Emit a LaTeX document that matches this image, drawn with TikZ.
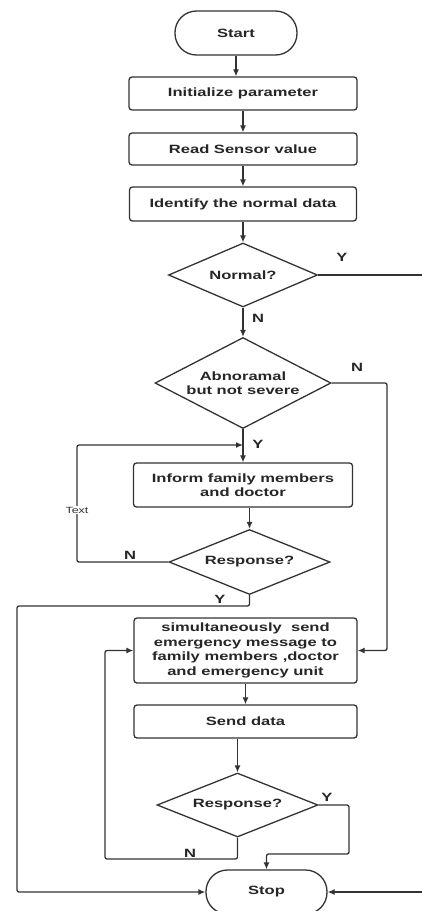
\documentclass[tikz,border=0pt]{standalone}
\usepackage{fontspec}
\setmainfont{Liberation Sans}[FakeStretch=1.38]
\usetikzlibrary{arrows.meta,shapes.geometric}
\definecolor{lncol}{HTML}{333333}
\begin{document}
\begin{tikzpicture}[x=1pt,y=-1pt,
  base/.style={draw=lncol, line width=1.3pt, font=\fontsize{12}{14.5}\selectfont\bfseries, text=black!85},
  proc/.style={base, rectangle, rounded corners=3pt, align=center, inner sep=0pt},
  term/.style={base, rectangle, rounded corners=21.5pt, inner sep=0pt},
  dec/.style={base, diamond, aspect=2, inner sep=0pt, align=center},
  conn/.style={draw=lncol, line width=1.3pt, rounded corners=2pt},
  arr/.style={conn, -{Latex[length=7pt,width=6pt]}},
  lab/.style={font=\fontsize{12}{14.5}\selectfont\bfseries, text=black!85, inner sep=1pt}]
\useasboundingbox (0,0) rectangle (422,911);
\fill[white] (0,0) rectangle (422,911);
\clip (0,0) rectangle (422,911);

% nodes
\node[term, minimum width=122pt, minimum height=44pt] (start) at (236,33) {Start};
\node[proc, minimum width=228pt, minimum height=33pt] (init) at (243,93.5) {Initialize parameter};
\node[proc, minimum width=228pt, minimum height=32pt] (read) at (243,149) {Read Sensor value};
\node[proc, minimum width=227pt, minimum height=34pt] (ident) at (243,204) {Identify the normal data};
\node[dec, minimum width=149pt, minimum height=64pt] (normal) at (243,275) {Normal?};
\node[dec, minimum width=176pt, minimum height=91pt] (abn) at (243,383) {Abnoramal\\[-1pt]but not severe};
\node[proc, minimum width=219pt, minimum height=44pt] (inform) at (243,485) {Inform family members\\and doctor};
\node[dec, minimum width=161pt, minimum height=65pt] (resp1) at (249.5,562) {Response?};
\node[proc, minimum width=223pt, minimum height=65pt] (sim) at (245.5,650.5) {simultaneously\ \ send\\emergency message to\\family members ,doctor\\and emergency unit};
\node[proc, minimum width=223pt, minimum height=33pt] (send) at (245.5,721.5) {Send data};
\node[dec, minimum width=161pt, minimum height=64pt] (resp2) at (237.5,805) {Response?};
\node[term, minimum width=121pt, minimum height=44pt] (stop) at (266.5,892) {Stop};

% helper coordinates
\coordinate (eY) at (430,272);
\coordinate (eS) at (430,892);
\coordinate (c1) at (387,383);
\coordinate (c2) at (77,445);
\coordinate (j1) at (243,445);
\coordinate (c3) at (17,606);
\coordinate (c4) at (349,854);
\coordinate (c5) at (105,859);

% straight flow
\draw[arr] (start.south) -- (start.south |- init.north);
\draw[arr] (init) -- (read);
\draw[arr] (read) -- (ident);
\draw[arr] (ident) -- (normal);
\draw[arr] (normal) -- (abn);
\draw[arr] (abn) -- (inform);
\draw[arr] (inform.south -| resp1.north) -- (resp1.north);
\draw[arr] (sim) -- (send);
\draw[arr] (send.south -| resp2.north) -- (resp2.north);

% branches
\draw[conn] (normal.east) -- (normal.east -| eY);
\draw[arr] (abn.east) -- (c1) |- (sim.east);
\draw[arr] (resp1.west) -| (c2) -- (j1);
\draw[arr] (resp1.south) |- (c3) |- (stop.west);
\draw[arr] (resp2.east) -| (c4) -| (stop.north);
\draw[arr] (resp2.south) |- (c5) |- (sim.west);
\draw[arr] (eS) -- (stop.east);

% labels
\node[fill=white, inner sep=1pt, text=black!80, font=\fontsize{9}{10}\selectfont] (txt) at (77,510) {Text};
\node[lab] (lY1) at (342,257) {Y};
\node[lab] (lN1) at (258,318) {N};
\node[lab] (lN2) at (357,367) {N};
\node[lab] (lY2) at (258,444) {Y};
\node[lab] (lN3) at (130,555) {N};
\node[lab] (lY3) at (220,599) {Y};
\node[lab] (lY4) at (327,797) {Y};
\node[lab] (lN4) at (190,853) {N};
\end{tikzpicture}
\end{document}
